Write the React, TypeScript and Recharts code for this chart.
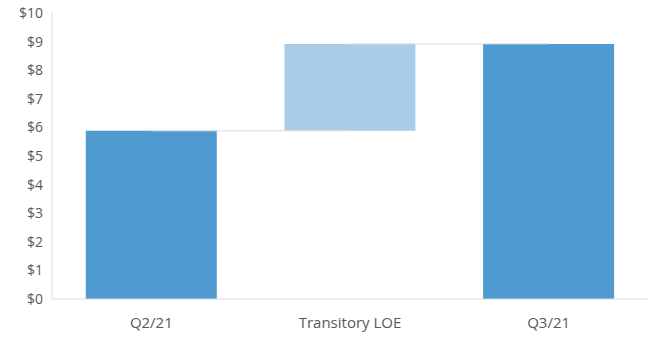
import { Bar, BarChart, Cell, ReferenceLine, XAxis, YAxis } from "recharts";

const categories = ["Q2/21", "Transitory LOE", "Q3/21"];
const baseValues = [0, 5.88, 0];
const stepValues = [5.88, 3.04, 8.92];
const yTicks = [0, 1, 2, 3, 4, 5, 6, 7, 8, 9, 10];

const barColors = ["#4f9bd1", "#a9cde9", "#4f9bd1"];

const data = categories.map((name, i) => ({
  name,
  base: baseValues[i],
  step: stepValues[i],
}));

const font = "'Open Sans', sans-serif";

export default function App() {
  return (
    <div style={{ position: "absolute", left: 0, top: 0, background: "#fff" }}>
      <BarChart
        width={652}
        height={339}
        data={data}
        margin={{ top: 13, right: 4, left: 0, bottom: 0 }}
        barCategoryGap="17%"
      >
        <XAxis
          dataKey="name"
          axisLine={{ stroke: "#d9d9d9" }}
          tickLine={false}
          tickSize={0}
          tickMargin={18}
          height={40}
          fontSize={15}
          fontFamily={font}
          tick={{ fill: "#595959", fontSize: 15, fontFamily: font }}
        />
        <YAxis
          domain={[0, 10]}
          ticks={yTicks}
          interval={0}
          width={52}
          axisLine={{ stroke: "#d9d9d9" }}
          tickLine={false}
          tickSize={0}
          tickMargin={9}
          fontSize={14}
          fontFamily={font}
          tickFormatter={(v: number) => `$${v}`}
          tick={{ fill: "#595959", fontSize: 14, fontFamily: font }}
        />
        {/* connector lines between the waterfall steps */}
        <ReferenceLine
          segment={[
            { x: categories[0], y: stepValues[0] },
            { x: categories[1], y: stepValues[0] },
          ]}
          stroke="#dcdcdc"
        />
        <ReferenceLine
          segment={[
            { x: categories[1], y: baseValues[1] + stepValues[1] },
            { x: categories[2], y: baseValues[1] + stepValues[1] },
          ]}
          stroke="#dcdcdc"
        />
        <Bar dataKey="base" stackId="w" fill="transparent" isAnimationActive={false} />
        <Bar dataKey="step" stackId="w" isAnimationActive={false}>
          {data.map((d, i) => (
            <Cell key={d.name} fill={barColors[i]} />
          ))}
        </Bar>
      </BarChart>
    </div>
  );
}
